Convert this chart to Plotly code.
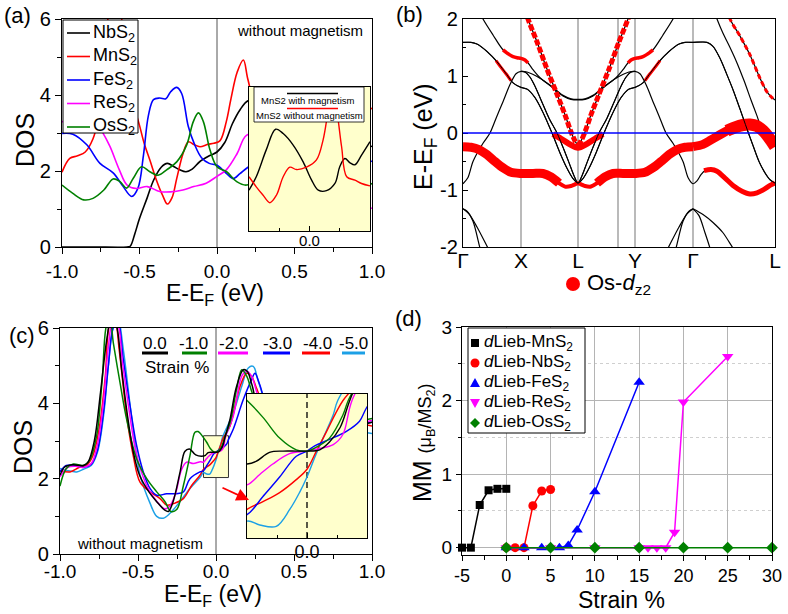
import plotly.graph_objects as go

FONT = "Liberation Sans, Arial, sans-serif"
W, H = 788, 614

# ---------------------------------------------------------------------------
# (a) DOS of non-magnetic dLieb MS2 sheets
# ---------------------------------------------------------------------------
E_NBS2 = [-1.0, -0.8, -0.58, -0.56, -0.53, -0.5, -0.45, -0.41, -0.36, -0.32, -0.28, -0.24, -0.2, -0.16,
          -0.11, -0.05, 0.0, 0.05, 0.1, 0.15, 0.2, 0.3, 0.45, 0.6, 0.75, 0.9, 1.0]
DOS_NBS2 = [0.0, 0.0, 0.0, 0.02, 0.35, 0.75, 1.3, 1.75, 2.1, 2.2, 2.12, 2.03, 1.98, 2.05,
            2.25, 2.4, 2.5, 2.75, 3.25, 3.62, 3.85, 3.9, 3.4, 3.0, 2.8, 2.6, 2.65]

E_MNS2 = [-1.0, -0.95, -0.9, -0.85, -0.8, -0.77, -0.73, -0.7, -0.66, -0.62, -0.58, -0.54, -0.5, -0.47,
          -0.43, -0.39, -0.35, -0.32, -0.29, -0.26, -0.22, -0.185, -0.15, -0.11, -0.06, -0.02, 0.02,
          0.06, 0.09, 0.13, 0.17, 0.2, 0.3, 0.45, 0.6, 0.75, 0.9, 1.0]
DOS_MNS2 = [1.97, 2.33, 2.4, 2.5, 2.85, 3.3, 4.5, 6.1, 6.6, 6.1, 4.9, 3.8, 3.2, 2.73,
            2.25, 1.75, 1.35, 1.13, 1.3, 1.8, 2.45, 2.77, 2.7, 2.64, 2.7, 2.73, 2.8,
            3.3, 3.9, 4.6, 4.92, 4.4, 3.0, 2.6, 3.2, 3.0, 3.5, 3.65]

E_FES2 = [-1.0, -0.93, -0.84, -0.755, -0.67, -0.61, -0.55, -0.51, -0.475, -0.443, -0.41, -0.37, -0.33,
          -0.3, -0.26, -0.228, -0.185, -0.145, -0.1, -0.05, 0.0, 0.06, 0.105, 0.148, 0.2, 0.3, 0.45,
          0.6, 0.75, 0.9, 1.0]
DOS_FES2 = [2.99, 2.97, 2.69, 2.2, 1.95, 1.62, 1.33, 1.55, 2.4, 3.45, 3.88, 3.92, 3.9,
            4.08, 4.2, 4.04, 3.17, 2.7, 2.35, 2.2, 2.15, 1.94, 1.8, 1.93, 2.1, 2.3, 2.0,
            2.4, 2.1, 2.35, 2.25]

E_RES2 = [-1.0, -0.93, -0.86, -0.8, -0.74, -0.69, -0.63, -0.58, -0.52, -0.45, -0.37, -0.3, -0.22,
          -0.15, -0.07, 0.0, 0.06, 0.13, 0.19, 0.3, 0.45, 0.6, 0.75, 0.9, 1.0]
DOS_RES2 = [3.3, 3.3, 3.45, 3.4, 3.03, 2.64, 2.03, 1.63, 1.54, 1.59, 1.46, 1.45, 1.5,
            1.59, 1.68, 1.86, 2.03, 2.46, 2.94, 3.0, 2.2, 1.7, 1.4, 1.1, 1.02]

E_OSS2 = [-1.0, -0.93, -0.86, -0.8, -0.73, -0.67, -0.626, -0.583, -0.54, -0.487, -0.433, -0.38,
          -0.325, -0.26, -0.196, -0.153, -0.12, -0.088, -0.045, 0.0, 0.062, 0.127, 0.191, 0.3,
          0.45, 0.6, 0.75, 0.9, 1.0]
DOS_OSS2 = [1.63, 1.41, 1.24, 1.28, 1.5, 1.79, 1.72, 1.55, 1.81, 2.11, 1.98, 1.89,
            2.03, 2.24, 2.68, 3.3, 3.53, 3.3, 2.55, 2.11, 1.98, 1.72, 1.63, 1.9,
            2.3, 1.8, 1.5, 1.7, 1.66]

DOS_A_NAMES = ["NbS<sub>2</sub>", "MnS<sub>2</sub>", "FeS<sub>2</sub>", "ReS<sub>2</sub>", "OsS<sub>2</sub>"]

# inset of (a): MnS2 with / without magnetism
E_MNS2_MAG = [-0.2, -0.176, -0.143, -0.112, -0.087, -0.054, -0.021, 0.007, 0.029, 0.056, 0.084,
              0.1, 0.117, 0.134, 0.15, 0.172, 0.2]
DOS_MNS2_MAG = [1.85, 2.13, 2.69, 3.12, 3.03, 2.79, 2.44, 2.06, 1.85, 1.84, 1.99,
                2.34, 2.51, 2.42, 2.38, 2.58, 2.86]
E_MNS2_NOMAG = [-0.2, -0.176, -0.154, -0.131, -0.109, -0.087, -0.065, -0.043, -0.01, 0.023, 0.045,
                0.062, 0.075, 0.09, 0.106, 0.123, 0.15, 0.172, 0.2]
DOS_MNS2_NOMAG = [2.13, 1.92, 1.75, 1.59, 1.75, 2.13, 2.33, 2.28, 2.33, 2.48, 2.9,
                  3.52, 3.95, 3.52, 2.76, 2.13, 2.06, 1.99, 1.94]

# ---------------------------------------------------------------------------
# (b) band structure of dLieb-OsS2 (k in path units)
# ---------------------------------------------------------------------------
K_TICKS = [0, 58, 115, 172, 230, 312]
K_LABELS = ["Γ", "X", "L", "Y", "Γ", "L"]
K_LINES = [58, 115, 155, 172, 230]

K_R = [0, 5, 10, 20, 27, 34, 40, 47, 53, 58, 64, 77, 90, 100, 108, 115, 122, 130, 140, 153,
       166, 172, 177, 183, 190, 196, 203, 210, 220, 225, 230, 234, 238, 242, 248, 254, 262, 270,
       279, 287, 294, 301, 307, 312]
E_R = [-0.89, -0.78, -0.5, -0.18, 0.0, 0.30, 0.55, 0.85, 1.04, 1.08, 1.07, 0.96, 0.79, 0.65, 0.59,
       0.58, 0.59, 0.65, 0.79, 0.96, 1.07, 1.08, 1.04, 0.85, 0.55, 0.30, 0.0, -0.18, -0.5, -0.78,
       -0.89, -0.84, -0.73, -0.66, -0.64, -0.67, -0.79, -0.92, -1.02, -1.07, -1.05, -0.99, -0.92, -0.88]

K_T = [0, 8, 14, 24, 34, 44, 50, 58, 64, 72, 80, 89, 97, 104, 110, 115, 120, 126, 133, 141,
       150, 158, 166, 172, 180, 186, 196, 206, 216, 222, 230, 244, 250, 257, 264, 270, 277, 284,
       290, 296, 302, 307, 312]
E_T = [1.59, 1.59, 1.56, 1.43, 1.25, 1.02, 0.88, 0.80, 0.77, 0.62, 0.36, 0.0, -0.35, -0.62, -0.80,
       -0.88, -0.80, -0.62, -0.35, 0.0, 0.36, 0.62, 0.77, 0.80, 0.88, 1.02, 1.25, 1.43, 1.56, 1.59,
       1.59, 1.59, 1.52, 1.31, 1.02, 0.76, 0.42, 0.07, -0.22, -0.50, -0.70, -0.82, -0.88]

K_S = [58, 62, 67, 72, 78, 86, 94, 100, 106, 111, 115, 119, 124, 130, 136, 144, 152, 158, 163, 168, 172]
E_S = [1.08, 1.07, 0.98, 0.82, 0.58, 0.26, 0.0, -0.25, -0.52, -0.75, -0.88, -0.75, -0.52, -0.25, 0.0,
       0.26, 0.58, 0.82, 0.98, 1.07, 1.08]

K_U = [16, 20, 30, 40, 50, 58, 64, 70, 77, 90, 100, 108, 115, 122, 130, 140, 153, 160, 166, 172,
       180, 190, 200, 210, 214]
E_U = [2.15, 2.0, 1.72, 1.46, 1.34, 1.31, 1.25, 1.11, 0.97, 0.80, 0.66, 0.60, 0.59, 0.60, 0.66, 0.80,
       0.97, 1.11, 1.25, 1.31, 1.34, 1.46, 1.72, 2.0, 2.15]

K_F2 = [250, 254, 260, 267, 274, 281, 288, 294, 300, 306, 312]
E_F2 = [2.2, 2.0, 1.75, 1.5, 1.23, 0.92, 0.58, 0.30, 0.0, -0.15, -0.24]

K_LOW = [[0, 4, 10, 17, 20], [0, 6, 14, 25, 28], [210, 213, 220, 226, 230], [202, 205, 216, 224, 230],
         [230, 236, 242, 247, 250], [230, 240, 250, 260, 270, 274]]
E_LOW = [[-1.33, -1.37, -1.55, -2.02, -2.2], [-1.33, -1.42, -1.65, -2.02, -2.12],
         [-2.2, -2.02, -1.55, -1.37, -1.33], [-2.12, -2.02, -1.65, -1.42, -1.33],
         [-1.33, -1.45, -1.75, -2.02, -2.2], [-1.33, -1.43, -1.57, -1.75, -2.02, -2.12]]

# Os-dz2 projected (fat) bands
K_DZ = [0, 8, 16, 24, 32, 40, 48, 58, 70, 80, 88, 96, 102, 108, 112, 115, 118, 122, 128, 134,
        142, 150, 160, 172, 182, 190, 198, 206, 214, 222, 230]
E_DZ = [-0.24, -0.25, -0.29, -0.38, -0.50, -0.61, -0.69, -0.71, -0.71, -0.71, -0.77, -0.88, -0.94,
        -0.93, -0.90, -0.88, -0.90, -0.93, -0.94, -0.88, -0.77, -0.71, -0.71, -0.71, -0.69, -0.61,
        -0.50, -0.38, -0.29, -0.25, -0.24]
K_DZ2 = [230, 240, 248, 256, 264, 272, 280, 287, 294, 300, 305, 309, 312]
E_DZ2 = [-0.24, -0.20, -0.12, -0.04, 0.04, 0.10, 0.14, 0.15, 0.12, 0.04, -0.06, -0.16, -0.24]
K_VL = [60, 65, 74, 84, 94, 102, 108, 112, 115]
E_VL = [2.3, 2.0, 1.6, 1.12, 0.68, 0.32, 0.02, -0.14, -0.22]
K_VR = [115, 118, 122, 128, 136, 146, 156, 165, 170]
E_VR = [-0.22, -0.14, 0.02, 0.32, 0.68, 1.12, 1.6, 2.0, 2.3]
K_CUP = [90, 98, 106, 115, 124, 132, 140]
E_CUP = [-0.02, -0.10, -0.19, -0.26, -0.19, -0.10, -0.02]
K_UR = [[40, 46, 50, 54, 58, 62, 65], [165, 168, 172, 176, 180, 184, 190]]
E_UR = [[1.46, 1.38, 1.34, 1.32, 1.31, 1.28, 1.23], [1.23, 1.28, 1.31, 1.32, 1.34, 1.38, 1.46]]
K_TR = [[33, 38, 43, 48], [182, 187, 192, 197]]
E_TR = [[1.27, 1.15, 1.04, 0.92], [0.92, 1.04, 1.15, 1.27]]
K_RL = [241, 248, 254, 262, 270, 279, 287, 294, 301, 307, 312]
E_RL = [-0.66, -0.64, -0.67, -0.79, -0.92, -1.02, -1.07, -1.05, -0.99, -0.92, -0.88]
K_RD = [262, 267, 277, 287, 297, 304, 309, 312]
E_RD = [2.3, 2.0, 1.7, 1.37, 0.96, 0.72, 0.62, 0.58]

# ---------------------------------------------------------------------------
# (c) DOS of dLieb-MnS2 under compressive strain (no magnetism)
# ---------------------------------------------------------------------------
STRAIN_LABELS = ["0.0", "-1.0", "-2.0", "-3.0", "-4.0", "-5.0"]
STRAIN_COLORS = ["#000000", "#008000", "#ff00ff", "#0000ff", "#ff0000", "#1ca0e6"]

E_S00 = [-1.0, -0.97, -0.92, -0.85, -0.82, -0.78, -0.74, -0.70, -0.67, -0.64, -0.605, -0.57, -0.53,
         -0.49, -0.43, -0.38, -0.33, -0.305, -0.275, -0.23, -0.2, -0.17, -0.13, -0.08, -0.068, -0.05,
         -0.032, -0.014, 0.0, 0.017, 0.03, 0.044, 0.057, 0.09, 0.13, 0.175, 0.2, 0.23, 0.27, 0.35,
         0.5, 0.7, 0.85, 1.0]
DOS_S00 = [2.09, 2.31, 2.37, 2.35, 2.44, 3.0, 4.3, 5.7, 6.3, 6.1, 4.9, 3.75, 2.7,
           2.09, 1.65, 1.39, 1.17, 1.13, 1.39, 2.18, 2.72, 2.79, 2.63, 2.6, 2.62, 2.69,
           2.7, 2.7, 2.7, 2.71, 2.77, 2.88, 3.09, 3.58, 4.42, 4.89, 4.85, 4.5, 3.9, 3.5,
           3.3, 3.6, 3.4, 3.5]

E_S10 = [-1.0, -0.96, -0.915, -0.85, -0.81, -0.765, -0.73, -0.70, -0.68, -0.658, -0.615, -0.573,
         -0.509, -0.444, -0.38, -0.327, -0.29, -0.252, -0.209, -0.167, -0.135, -0.115, -0.08,
         -0.0587, -0.0365, -0.0143, 0.0, 0.0125, 0.03, 0.048, 0.055, 0.09, 0.132, 0.165, 0.197,
         0.23, 0.27, 0.35, 0.5, 0.7, 0.85, 1.0]
DOS_S10 = [1.8, 2.27, 2.39, 2.35, 2.49, 3.14, 4.6, 6.1, 6.2, 5.6, 4.54, 3.58,
           2.53, 2.0, 1.65, 1.39, 1.13, 1.18, 1.82, 2.61, 3.23, 3.25, 3.09,
           2.96, 2.8, 2.71, 2.70, 2.73, 2.8, 2.98, 3.09, 3.49, 4.37, 4.89, 4.72,
           4.3, 3.9, 3.4, 3.4, 3.5, 3.5, 3.6]

E_S20 = [-1.0, -0.95, -0.9, -0.85, -0.8, -0.76, -0.72, -0.69, -0.66, -0.63, -0.6, -0.56, -0.52,
         -0.48, -0.43, -0.38, -0.33, -0.3, -0.26, -0.22, -0.188, -0.145, -0.1, -0.08, -0.063,
         -0.0456, -0.0232, 0.0, 0.017, 0.035, 0.048, 0.06, 0.111, 0.165, 0.197, 0.228, 0.27, 0.35,
         0.5, 0.7, 0.85, 1.0]
DOS_S20 = [2.05, 2.3, 2.33, 2.3, 2.4, 2.9, 4.1, 5.5, 6.2, 6.1, 5.1, 3.9, 2.85,
           2.2, 1.7, 1.4, 1.2, 1.25, 1.6, 2.25, 2.44, 2.4, 2.45, 2.44, 2.52,
           2.6, 2.68, 2.7, 2.72, 2.75, 2.83, 3.09, 3.67, 4.72, 4.85, 4.72, 4.2, 3.6,
           3.3, 3.5, 3.4, 3.55]

E_S30 = [-1.0, -0.96, -0.9, -0.85, -0.8, -0.76, -0.72, -0.69, -0.66, -0.63, -0.594, -0.551,
         -0.509, -0.466, -0.423, -0.38, -0.316, -0.252, -0.209, -0.167, -0.103, -0.08, -0.0587,
         -0.0365, -0.0143, 0.0, 0.0103, 0.03, 0.052, 0.07, 0.079, 0.111, 0.175, 0.228, 0.25, 0.28,
         0.35, 0.5, 0.7, 0.85, 1.0]
DOS_S30 = [2.18, 2.35, 2.35, 2.3, 2.38, 2.75, 3.8, 5.0, 6.0, 6.2, 5.16, 3.93,
           2.88, 2.18, 1.74, 1.56, 1.6, 1.6, 1.65, 2.0, 2.18, 2.21, 2.35,
           2.5, 2.66, 2.70, 2.74, 2.79, 2.85, 2.93, 3.03, 3.32, 4.1, 4.63, 4.8, 4.5,
           3.7, 3.3, 3.6, 3.45, 3.5]

E_S40 = [-1.0, -0.936, -0.872, -0.83, -0.79, -0.75, -0.71, -0.68, -0.65, -0.62, -0.573, -0.53,
         -0.487, -0.423, -0.359, -0.316, -0.263, -0.209, -0.156, -0.103, -0.08, -0.0587, -0.0365,
         -0.0143, 0.0, 0.0125, 0.026, 0.039, 0.048, 0.09, 0.154, 0.197, 0.228, 0.26, 0.35, 0.5,
         0.7, 0.85, 1.0]
DOS_S40 = [2.22, 2.18, 2.31, 2.35, 2.6, 3.3, 4.7, 6.1, 6.2, 5.4, 3.67, 2.6,
           1.91, 1.65, 1.47, 1.3, 1.35, 1.47, 1.82, 2.09, 2.25, 2.31, 2.38,
           2.48, 2.56, 2.7, 2.85, 3.0, 3.09, 3.4, 4.45, 4.8, 4.72, 4.4, 3.6, 3.4,
           3.5, 3.5, 3.4]

E_S50 = [-1.0, -0.957, -0.893, -0.85, -0.8, -0.76, -0.72, -0.69, -0.66, -0.63, -0.594, -0.54,
         -0.487, -0.423, -0.38, -0.338, -0.295, -0.231, -0.167, -0.103, -0.08, -0.063, -0.041,
         -0.023, -0.01, 0.0, 0.0103, 0.0214, 0.035, 0.041, 0.111, 0.165, 0.207, 0.239, 0.27, 0.35,
         0.5, 0.7, 0.85, 1.0]
DOS_S50 = [2.27, 2.22, 2.18, 2.25, 2.35, 2.7, 3.7, 5.0, 6.0, 6.3, 5.42, 3.6,
           2.1, 1.35, 1.0, 0.95, 1.08, 1.39, 1.74, 2.03, 2.16, 2.13, 2.12,
           2.25, 2.38, 2.5, 2.65, 2.8, 2.98, 3.09, 3.75, 4.45, 4.94, 4.98, 4.6, 3.8,
           3.5, 3.4, 3.3, 3.2]

# ---------------------------------------------------------------------------
# (d) magnetic moment versus strain
# ---------------------------------------------------------------------------
STRAIN_MNS2 = [-5, -4, -3, -2, -1, 0]
MM_MNS2 = [0.0, 0.0, 0.58, 0.78, 0.80, 0.80]
STRAIN_NBS2 = [0, 1, 2, 3, 4, 5]
MM_NBS2 = [0.0, 0.0, 0.0, 0.57, 0.77, 0.79]
STRAIN_FES2 = [0, 2, 4, 6, 7, 8, 10, 15]
MM_FES2 = [0.0, 0.0, 0.0, 0.0, 0.03, 0.24, 0.76, 2.25]
STRAIN_RES2 = [0, 5, 10, 15, 16, 17, 18, 19, 20, 25]
MM_RES2 = [0.0, 0.0, 0.0, 0.0, 0.0, 0.0, 0.0, 0.21, 1.98, 2.6]
STRAIN_OSS2 = [0, 5, 10, 15, 20, 25, 30]
MM_OSS2 = [0.0, 0.0, 0.0, 0.0, 0.0, 0.0, 0.0]
MM_NAMES = ["<i>d</i>Lieb-MnS<sub>2</sub>", "<i>d</i>Lieb-NbS<sub>2</sub>", "<i>d</i>Lieb-FeS<sub>2</sub>",
            "<i>d</i>Lieb-ReS<sub>2</sub>", "<i>d</i>Lieb-OsS<sub>2</sub>"]

# ---------------------------------------------------------------------------
BLACK, RED, BLUE, MAGENTA, GREEN = "#000000", "#ff0000", "#0000ff", "#ff00ff", "#008000"
YELLOW = "#ffffcc"


def fx(p):
    return p / W


def fy(p):
    return 1 - p / H


fig = go.Figure()


def curve(x, y, color, width, ax, dash=None, smooth=1.0):
    fig.add_trace(go.Scatter(x=x, y=y, mode="lines",
                             line=dict(color=color, width=width, shape="spline", smoothing=smooth, dash=dash),
                             xaxis=ax[0], yaxis=ax[1], hoverinfo="skip", showlegend=False))


A, B, C, D, IA, IC = ("x", "y"), ("x2", "y2"), ("x3", "y3"), ("x4", "y4"), ("x5", "y5"), ("x6", "y6")

# ---- (a)
for e, d, col in zip([E_NBS2, E_MNS2, E_FES2, E_RES2, E_OSS2],
                     [DOS_NBS2, DOS_MNS2, DOS_FES2, DOS_RES2, DOS_OSS2],
                     [BLACK, RED, BLUE, MAGENTA, GREEN]):
    curve(e, d, col, 1.6, A)
curve(E_MNS2_MAG, DOS_MNS2_MAG, BLACK, 1.4, IA)
curve(E_MNS2_NOMAG, DOS_MNS2_NOMAG, RED, 1.4, IA)

# ---- (b)
for kk, ee in zip(K_LOW, E_LOW):
    curve(kk, ee, BLACK, 1.2, B, smooth=0.8)
for kk, ee in [(K_R, E_R), (K_T, E_T), (K_S, E_S), (K_U, E_U), (K_F2, E_F2), (K_RD, E_RD),
               (K_VL, E_VL), (K_VR, E_VR)]:
    curve(kk, ee, BLACK, 1.2, B, smooth=0.8)
curve(K_DZ[0:12], E_DZ[0:12], RED, 9, B, smooth=0.8)
curve(K_DZ[10:21], E_DZ[10:21], RED, 4, B, smooth=0.8)
curve(K_DZ[19:], E_DZ[19:], RED, 9, B, smooth=0.8)
curve(K_DZ2[0:6], E_DZ2[0:6], RED, 9, B, smooth=0.8)
curve(K_DZ2[4:], E_DZ2[4:], RED, 12, B, smooth=0.8)
curve(K_CUP, E_CUP, RED, 6, B, smooth=0.8)
curve(K_RL, E_RL, RED, 5, B, smooth=0.8)
for kk, ee in zip(K_UR, E_UR):
    curve(kk, ee, RED, 3.5, B, smooth=0.8)
for kk, ee in zip(K_TR, E_TR):
    curve(kk, ee, RED, 3, B, smooth=0.8)
curve(K_VL, E_VL, RED, 5, B, dash="6px,2px", smooth=0.8)
curve(K_VR, E_VR, RED, 5, B, dash="6px,2px", smooth=0.8)
curve(K_RD, E_RD, RED, 3, B, dash="5px,3px", smooth=0.8)
for kk, ee in [(K_S, E_S), (K_T, E_T)]:
    curve(kk, ee, BLACK, 1.0, B, smooth=0.8)

# ---- (c) and its zoom
strain_sets = [(E_S50, DOS_S50, 5), (E_S40, DOS_S40, 4), (E_S30, DOS_S30, 3),
               (E_S20, DOS_S20, 2), (E_S10, DOS_S10, 1), (E_S00, DOS_S00, 0)]
for e, d, i in strain_sets:
    curve(e, d, STRAIN_COLORS[i], 1.5, C)
for e, d, i in strain_sets:
    curve(e, d, STRAIN_COLORS[i], 1.4, IC)

# ---- (d)
mm_sets = [(STRAIN_MNS2, MM_MNS2, BLACK, "square", 8),
           (STRAIN_NBS2, MM_NBS2, RED, "circle", 9),
           (STRAIN_FES2, MM_FES2, BLUE, "triangle-up", 10),
           (STRAIN_RES2, MM_RES2, MAGENTA, "triangle-down", 10),
           (STRAIN_OSS2, MM_OSS2, GREEN, "diamond", 9)]
for s, m, col, sym, sz in mm_sets:
    fig.add_trace(go.Scatter(x=s, y=m, mode="lines+markers", line=dict(color=col, width=1.5),
                             marker=dict(symbol=sym, size=sz, color=col), cliponaxis=False,
                             xaxis="x4", yaxis="y4", hoverinfo="skip", showlegend=False))

# ---------------------------------------------------------------------------
tickfont = dict(family=FONT, size=20, color="black")
xtickfont = dict(family=FONT, size=19, color="black")


def ax_style(**kw):
    base = dict(showline=True, linecolor="black", linewidth=1.3, mirror=True, showgrid=False,
                zeroline=False, ticks="outside", ticklen=6, tickwidth=1.2, tickcolor="black",
                tickfont=tickfont, automargin=False)
    base.update(kw)
    return base


E_TICKS = [-1.0, -0.5, 0.0, 0.5, 1.0]
E_TEXT = ["-1.0", "-0.5", "0.0", "0.5", "1.0"]


def minor_out(dt):
    return dict(ticks="outside", dtick=dt, ticklen=3.5, tickwidth=1, tickcolor="black")


layout = dict(
    width=W, height=H, margin=dict(l=0, r=0, t=0, b=0, pad=0, autoexpand=False), showlegend=False,
    paper_bgcolor="white", plot_bgcolor="white", font=dict(family=FONT, color="black"),
    xaxis=ax_style(domain=[fx(62), fx(372)], anchor="y", range=[-1, 1], tickvals=E_TICKS, ticktext=E_TEXT,
                   minor=minor_out(0.25), ticklabelstandoff=1, tickfont=xtickfont),
    yaxis=ax_style(domain=[fy(247), fy(19)], anchor="x", range=[0, 6], tickvals=[0, 2, 4, 6],
                   ticktext=["0", "2", "4", "6"], minor=minor_out(1)),
    xaxis2=ax_style(domain=[fx(463), fx(775)], anchor="y2", range=[0, 312], tickvals=K_TICKS,
                    ticktext=K_LABELS, ticks="", ticklabelstandoff=-5,
                    tickfont=dict(family=FONT, size=21, color="black")),
    yaxis2=ax_style(domain=[fy(247), fy(19)], anchor="x2", range=[-2, 2], tickvals=[-2, -1, 0, 1, 2],
                    ticktext=["-2", "-1", "0", "1", "2"], ticks="inside", ticklen=5,
                    minor=dict(ticks="inside", dtick=0.5, ticklen=3, tickcolor="black")),
    xaxis3=ax_style(domain=[fx(60), fx(372)], anchor="y3", range=[-1, 1], tickvals=E_TICKS, ticktext=E_TEXT,
                    minor=minor_out(0.25), ticklabelstandoff=-6, tickfont=xtickfont),
    yaxis3=ax_style(domain=[fy(554), fy(328)], anchor="x3", range=[0, 6], tickvals=[0, 2, 4, 6],
                    ticktext=["0", "2", "4", "6"], minor=minor_out(1)),
    xaxis4=ax_style(domain=[fx(462), fx(772)], anchor="y4", range=[-5, 30], tickvals=[-5, 0, 5, 10, 15, 20, 25, 30],
                    ticktext=["-5", "0", "5", "10", "15", "20", "25", "30"], showgrid=True, ticklen=5,
                    ticklabelstandoff=-1, tickfont=dict(family=FONT, size=18, color="black"),
                    gridcolor="#b4b4b4", gridwidth=1, minor=minor_out(2.5)),
    yaxis4=ax_style(domain=[fy(555), fy(327)], anchor="x4", range=[-0.1, 3], tickvals=[0, 1, 2, 3],
                    ticktext=["0", "1", "2", "3"], showgrid=True, gridcolor="#b4b4b4", gridwidth=1, ticklen=5,
                    tickfont=dict(family=FONT, size=19, color="black"),
                    minor=dict(ticks="outside", dtick=0.5, ticklen=3, tickcolor="black", showgrid=True,
                               gridcolor="#cfcfcf", griddash="dot", gridwidth=1)),
    xaxis5=ax_style(domain=[fx(249), fx(370)], anchor="y5", range=[-0.2, 0.2], tickvals=[0], ticktext=["0.0"],
                    ticks="inside", ticklen=5, linewidth=1, ticklabelstandoff=-4,
                    tickfont=dict(family=FONT, size=15, color="black"),
                    minor=dict(ticks="inside", dtick=0.1, ticklen=3, tickcolor="black")),
    yaxis5=ax_style(domain=[fy(231), fy(87)], anchor="x5", range=[1, 4], ticks="", showticklabels=False,
                    linewidth=1),
    xaxis6=ax_style(domain=[fx(247), fx(367)], anchor="y6", range=[-0.08, 0.08], tickvals=[0], ticktext=["0.0"],
                    ticks="inside", ticklen=5, linewidth=1, ticklabelstandoff=-3,
                    tickfont=dict(family=FONT, size=18, color="black"),
                    minor=dict(ticks="inside", dtick=0.04, ticklen=3, tickcolor="black")),
    yaxis6=ax_style(domain=[fy(538), fy(394)], anchor="x6", range=[2.03, 3.14], ticks="", showticklabels=False,
                    linewidth=1),
)
fig.update_layout(**layout)

shapes = []
# backgrounds of the two zoomed views
shapes.append(dict(type="rect", xref="x5", yref="y5", x0=-0.2, x1=0.2, y0=1, y1=4, fillcolor=YELLOW,
                   line=dict(width=0), layer="below"))
shapes.append(dict(type="rect", xref="x6", yref="y6", x0=-0.08, x1=0.08, y0=2.03, y1=3.14, fillcolor=YELLOW,
                   line=dict(width=0), layer="below"))
shapes.append(dict(type="line", xref="x6", yref="y6", x0=0, x1=0, y0=2.03, y1=3.14,
                   line=dict(color="black", width=1.3, dash="6px,4px"), layer="below"))
# Fermi level markers in the DOS panels
for xr, yr in [("x", "y"), ("x3", "y3")]:
    shapes.append(dict(type="line", xref=xr, yref=yr, x0=0, x1=0, y0=0, y1=6,
                       line=dict(color="#555555", width=1), layer="below"))
# zoom window in (c)
shapes.append(dict(type="rect", xref="x3", yref="y3", x0=-0.08, x1=0.08, y0=2.03, y1=3.14,
                   fillcolor=YELLOW, line=dict(color="#333333", width=1), layer="below"))
# high-symmetry lines and Fermi level in (b)
for k in K_LINES:
    shapes.append(dict(type="line", xref="x2", yref="y2", x0=k, x1=k, y0=-2, y1=2,
                       line=dict(color="#8c8c8c", width=1.2), layer="below"))
shapes.append(dict(type="line", xref="x2", yref="y2", x0=0, x1=312, y0=0, y1=0,
                   line=dict(color="#0000ff", width=1.5), layer="above"))

ann = []


def text(s, x, y, size, angle=0, xanchor="center", color="black"):
    ann.append(dict(text=s, x=fx(x), y=fy(y), xref="paper", yref="paper", showarrow=False,
                    font=dict(family=FONT, size=size, color=color), textangle=angle,
                    xanchor=xanchor, yanchor="middle"))


# legend of (a)
shapes.append(dict(type="rect", xref="paper", yref="paper", x0=fx(63), x1=fx(138), y0=fy(133), y1=fy(20),
                   fillcolor="white", line=dict(color="black", width=1), layer="above"))
for i, (name, col) in enumerate(zip(DOS_A_NAMES, [BLACK, RED, BLUE, MAGENTA, GREEN])):
    yy = 33 + 23.5 * i
    shapes.append(dict(type="line", xref="paper", yref="paper", x0=fx(67), x1=fx(90), y0=fy(yy), y1=fy(yy),
                       line=dict(color=col, width=1.6), layer="above"))
    text(name, 91, yy, 18, xanchor="left")

# legend of the (a) inset
shapes.append(dict(type="rect", xref="paper", yref="paper", x0=fx(254), x1=fx(364), y0=fy(122), y1=fy(87),
                   fillcolor="white", line=dict(color="black", width=0.8), layer="above"))
shapes.append(dict(type="line", xref="paper", yref="paper", x0=fx(287), x1=fx(338), y0=fy(93.5), y1=fy(93.5),
                   line=dict(color=BLACK, width=1.4), layer="above"))
shapes.append(dict(type="line", xref="paper", yref="paper", x0=fx(287), x1=fx(338), y0=fy(108.5), y1=fy(108.5),
                   line=dict(color=RED, width=1.4), layer="above"))
text("MnS2 with magnetism", 308, 101, 9.5)
text("MnS2 without magnetism", 309, 115.5, 9.5)
text("without magnetism", 300, 30, 15)

# legend of (b)
shapes.append(dict(type="circle", xref="paper", yref="paper", x0=fx(566), x1=fx(580), y0=fy(291), y1=fy(277),
                   fillcolor=RED, line=dict(width=0), layer="above"))
text("Os-<i>d</i><sub>z2</sub>", 585, 284, 22, xanchor="left")

# legend of (c)
label_x = [155, 193, 233, 277, 317, 353]
line_span = [(142, 168), (182, 207), (218, 248), (263, 290), (302, 330), (342, 365)]
for lab, col, cx, (l0, l1) in zip(STRAIN_LABELS, STRAIN_COLORS, label_x, line_span):
    text(lab, cx, 343, 17)
    shapes.append(dict(type="line", xref="paper", yref="paper", x0=fx(l0), x1=fx(l1), y0=fy(353), y1=fy(353),
                       line=dict(color=col, width=3), layer="above"))
text("Strain %", 177, 367, 17)
text("without magnetism", 140, 543, 15)
ann.append(dict(x=fx(249), y=fy(500), xref="paper", yref="paper", ax=-28, ay=-13, showarrow=True,
                arrowhead=2, arrowsize=1.4, arrowwidth=1.8, arrowcolor=RED, text=""))

# legend of (d)
shapes.append(dict(type="rect", xref="paper", yref="paper", x0=fx(468), x1=fx(585), y0=fy(433), y1=fy(328),
                   fillcolor="white", line=dict(color="black", width=1), layer="above"))


def pp(x, y):
    return f"{fx(x):.5f},{fy(y):.5f}"


for i, (name, (_, _, col, sym, _)) in enumerate(zip(MM_NAMES, mm_sets)):
    cy, cx, r = 343 + 20 * i, 475, 4.5
    if sym == "square":
        shapes.append(dict(type="rect", xref="paper", yref="paper", x0=fx(cx - 4), x1=fx(cx + 4),
                           y0=fy(cy + 4), y1=fy(cy - 4), fillcolor=col, line=dict(width=0), layer="above"))
    elif sym == "circle":
        shapes.append(dict(type="circle", xref="paper", yref="paper", x0=fx(cx - r), x1=fx(cx + r),
                           y0=fy(cy + r), y1=fy(cy - r), fillcolor=col, line=dict(width=0), layer="above"))
    else:
        if sym == "triangle-up":
            pts = [(cx, cy - 5), (cx + 5, cy + 4), (cx - 5, cy + 4)]
        elif sym == "triangle-down":
            pts = [(cx, cy + 5), (cx + 5, cy - 4), (cx - 5, cy - 4)]
        else:
            pts = [(cx, cy - 5), (cx + 5, cy), (cx, cy + 5), (cx - 5, cy)]
        path = "M " + " L ".join(pp(*p) for p in pts) + " Z"
        shapes.append(dict(type="path", xref="paper", yref="paper", path=path, fillcolor=col,
                           line=dict(width=0), layer="above"))
    text(name, 482, cy, 17, xanchor="left")

# axis titles and panel tags
text("DOS", 25, 140, 25, angle=-90)
text("E-E<sub>F</sub> (eV)", 215, 294, 23)
text("E-E<sub>F</sub> (eV)", 425, 137, 25, angle=-90)
text("DOS", 23, 447, 25, angle=-90)
text("E-E<sub>F</sub> (eV)", 213, 595, 23)
text("MM <span style='font-size:18px'>(μ<sub>B</sub>/MS<sub>2</sub>)</span>", 423, 443, 25, angle=-90)
text("Strain %", 621, 600, 23)
text("(a)", 17, 15, 22)
text("(b)", 409, 14, 22)
text("(c)", 22, 335, 22)
text("(d)", 408, 318, 22)

fig.update_layout(shapes=shapes, annotations=ann)
fig.write_html("out.html")
